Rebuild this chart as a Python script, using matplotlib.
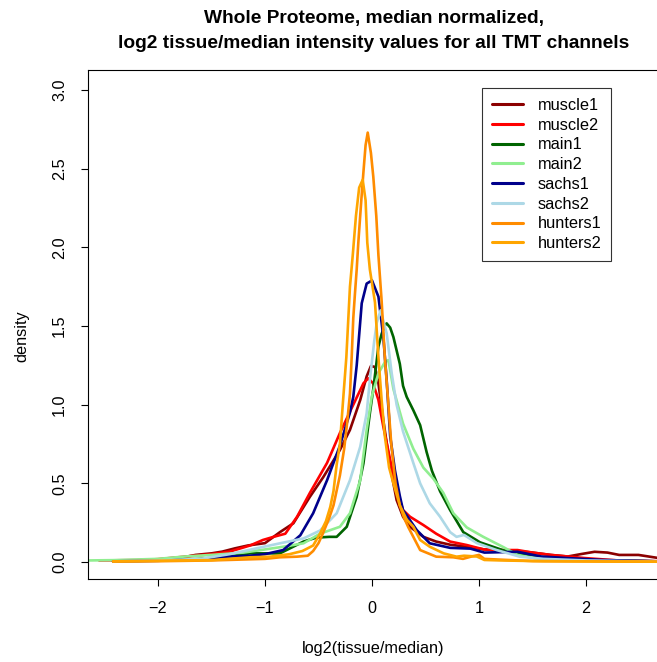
import matplotlib
matplotlib.use("Agg")
import matplotlib.pyplot as plt
from matplotlib.ticker import FixedLocator, FormatStrFormatter

plt.rcParams['font.family'] = ['Liberation Sans', 'DejaVu Sans']

# ---- data ----
series_names = ["muscle1", "muscle2", "main1", "main2", "sachs1", "sachs2", "hunters1", "hunters2"]
series_colors = ["#8B0000", "#FF0000", "#006400", "#90EE90", "#00008B", "#ADD8E6", "#FF8C00", "#FFA500"]

muscle1_x = [-2.42, -2.2, -2.0, -1.8, -1.65, -1.5, -1.4, -1.28, -1.16, -1.0, -0.86, -0.735, -0.58, -0.455,
             -0.3, -0.206, -0.11, -0.05, -0.01, 0.028, 0.06, 0.106, 0.17, 0.23, 0.29, 0.355, 0.48, 0.6,
             0.73, 0.885, 1.05, 1.2, 1.36, 1.5, 1.67, 1.83, 1.95, 2.08, 2.2, 2.31, 2.49, 2.68]
muscle1_y = [0.005, 0.01, 0.015, 0.025, 0.045, 0.055, 0.066, 0.087, 0.105, 0.12, 0.19, 0.246, 0.415, 0.54,
             0.712, 0.84, 1.03, 1.18, 1.246, 1.24, 1.136, 0.90, 0.606, 0.394, 0.288, 0.224, 0.16, 0.13,
             0.11, 0.097, 0.08, 0.075, 0.07, 0.06, 0.045, 0.035, 0.05, 0.065, 0.06, 0.045, 0.045, 0.025]

muscle2_x = [-2.55, -2.2, -2.0, -1.75, -1.5, -1.33, -1.14, -1.02, -0.92, -0.81, -0.70, -0.58, -0.42, -0.30,
             -0.175, -0.08, -0.035, 0.01, 0.06, 0.106, 0.17, 0.23, 0.29, 0.355, 0.48, 0.6, 0.73, 0.885,
             1.045, 1.2, 1.36, 1.5, 1.67, 1.99, 2.3, 2.68]
muscle2_y = [0.01, 0.012, 0.018, 0.034, 0.05, 0.066, 0.105, 0.14, 0.16, 0.18, 0.288, 0.44, 0.63, 0.82,
             1.0, 1.136, 1.168, 1.136, 1.03, 0.86, 0.65, 0.457, 0.33, 0.288, 0.235, 0.18, 0.13, 0.108,
             0.08, 0.076, 0.076, 0.06, 0.045, 0.025, 0.01, 0.005]

main1_x = [-2.42, -2.0, -1.6, -1.3, -1.14, -0.86, -0.64, -0.52, -0.4, -0.33, -0.236, -0.143, -0.08, -0.02,
           0.012, 0.06, 0.09, 0.12, 0.137, 0.17, 0.2, 0.26, 0.29, 0.324, 0.386, 0.45, 0.51, 0.56, 0.636,
           0.73, 0.853, 1.01, 1.22, 1.38, 1.6, 2.0, 2.68]
main1_y = [0.005, 0.01, 0.02, 0.04, 0.055, 0.055, 0.13, 0.155, 0.16, 0.16, 0.224, 0.415, 0.627, 0.945,
           1.10, 1.37, 1.45, 1.505, 1.517, 1.49, 1.43, 1.26, 1.12, 1.05, 0.965, 0.87, 0.70, 0.58, 0.45,
           0.33, 0.19, 0.125, 0.076, 0.055, 0.03, 0.012, 0.004]

main2_x = [-2.65, -2.4, -2.0, -1.75, -1.5, -1.2, -1.0, -0.83, -0.64, -0.486, -0.3, -0.206, -0.11, -0.05,
           -0.003, 0.06, 0.12, 0.153, 0.2, 0.29, 0.386, 0.48, 0.573, 0.666, 0.76, 0.885, 1.04, 1.227,
           1.36, 1.52, 1.8, 2.2, 2.68]
main2_y = [0.01, 0.012, 0.02, 0.035, 0.045, 0.06, 0.08, 0.097, 0.119, 0.18, 0.224, 0.31, 0.52, 0.84,
           1.05, 1.2, 1.27, 1.284, 1.10, 0.88, 0.72, 0.60, 0.53, 0.44, 0.31, 0.22, 0.16, 0.095,
           0.045, 0.025, 0.012, 0.006, 0.003]

sachs1_x = [-2.42, -2.0, -1.6, -1.37, -1.14, -1.0, -0.83, -0.67, -0.55, -0.42, -0.3, -0.206, -0.175,
            -0.143, -0.096, -0.05, 0.0, 0.06, 0.106, 0.137, 0.17, 0.215, 0.26, 0.29, 0.418, 0.54, 0.73,
            0.92, 1.05, 1.36, 1.58, 1.83, 2.15, 2.68]
sachs1_y = [0.004, 0.008, 0.015, 0.034, 0.04, 0.05, 0.076, 0.17, 0.31, 0.52, 0.74, 0.95, 1.05,
            1.25, 1.645, 1.77, 1.79, 1.687, 1.43, 1.157, 0.80, 0.58, 0.42, 0.33, 0.203, 0.119, 0.09,
            0.085, 0.06, 0.065, 0.035, 0.025, 0.013, 0.004]

sachs2_x = [-2.42, -2.0, -1.6, -1.33, -1.08, -0.86, -0.64, -0.486, -0.33, -0.206, -0.11, -0.05, -0.02,
            0.02, 0.044, 0.08, 0.137, 0.184, 0.23, 0.29, 0.386, 0.45, 0.54, 0.636, 0.73, 0.79, 0.86,
            0.98, 1.165, 1.38, 1.6, 2.0, 2.68]
sachs2_y = [0.004, 0.01, 0.02, 0.05, 0.087, 0.119, 0.15, 0.2, 0.31, 0.52, 0.733, 0.945, 1.157,
            1.40, 1.52, 1.60, 1.454, 1.2, 1.0, 0.83, 0.63, 0.5, 0.373, 0.288, 0.19, 0.16, 0.172,
            0.12, 0.076, 0.034, 0.02, 0.01, 0.003]

hunters1_x = [-2.42, -2.0, -1.5, -1.0, -0.86, -0.70, -0.6, -0.55, -0.5, -0.46, -0.4, -0.36, -0.3, -0.26,
              -0.23, -0.206, -0.19, -0.175, -0.16, -0.143, -0.128, -0.1, -0.08, -0.06, -0.04, -0.01,
              0.012, 0.04, 0.06, 0.09, 0.12, 0.15, 0.18, 0.22, 0.26, 0.3, 0.34, 0.386, 0.45, 0.6, 0.76,
              0.85, 0.93, 1.0, 1.05, 1.2, 1.5, 2.0, 2.68]
hunters1_y = [0.003, 0.005, 0.01, 0.02, 0.03, 0.034, 0.04, 0.07, 0.12, 0.18, 0.28, 0.36, 0.55, 0.72,
              0.9, 1.07, 1.3, 1.55, 1.7, 1.86, 2.03, 2.3, 2.48, 2.65, 2.73, 2.6,
              2.45, 2.2, 1.95, 1.66, 1.3, 1.03, 0.75, 0.5, 0.36, 0.28, 0.22, 0.16, 0.076, 0.034, 0.03,
              0.02, 0.035, 0.045, 0.02, 0.015, 0.006, 0.004, 0.002]

hunters2_x = [-2.42, -2.0, -1.5, -1.14, -0.95, -0.77, -0.65, -0.55, -0.486, -0.43, -0.39, -0.36, -0.33,
              -0.3, -0.27, -0.24, -0.206, -0.18, -0.15, -0.12, -0.087, -0.06, -0.044, -0.02, 0.028,
              0.06, 0.09, 0.12, 0.16, 0.2, 0.26, 0.324, 0.386, 0.45, 0.54, 0.67, 0.79, 0.86, 0.98,
              1.05, 1.2, 1.6, 2.68]
hunters2_y = [0.004, 0.008, 0.012, 0.03, 0.034, 0.05, 0.07, 0.105, 0.18, 0.26, 0.35, 0.45, 0.62,
              0.75, 1.03, 1.3, 1.75, 1.95, 2.2, 2.38, 2.43, 2.3, 2.03, 1.86, 1.65,
              1.3, 1.03, 0.8, 0.6, 0.5, 0.36, 0.27, 0.224, 0.14, 0.097, 0.055, 0.034, 0.04, 0.035,
              0.013, 0.01, 0.005, 0.002]

series_x = [muscle1_x, muscle2_x, main1_x, main2_x, sachs1_x, sachs2_x, hunters1_x, hunters2_x]
series_y = [muscle1_y, muscle2_y, main1_y, main2_y, sachs1_y, sachs2_y, hunters1_y, hunters2_y]

x_ticks = [-2, -1, 0, 1, 2]
y_ticks = [0.0, 0.5, 1.0, 1.5, 2.0, 2.5, 3.0]

title_lines = ["Whole Proteome, median normalized,",
               "log2 tissue/median intensity values for all TMT channels"]
x_label = "log2(tissue/median)"
y_label = "density"

# ---- figure ----
W, H = 657, 662
fig = plt.figure(figsize=(W / 100, H / 100), dpi=100)

def fx(px):
    return px / W

def fy(py):
    return 1 - py / H

ax_left, ax_right, ax_top, ax_bottom = 88, 659, 70, 579
ax = fig.add_axes([fx(ax_left), fy(ax_bottom), (ax_right - ax_left) / W, (ax_bottom - ax_top) / H])

for xs, ys, c, n in zip(series_x, series_y, series_colors, series_names):
    ax.plot(xs, ys, color=c, lw=1.9, label=n, solid_joinstyle='round', solid_capstyle='round')

ax.set_xlim(-2.654, 2.682)
ax.set_ylim(-0.108, 3.128)

ax.xaxis.set_major_locator(FixedLocator(x_ticks))
ax.yaxis.set_major_locator(FixedLocator(y_ticks))
ax.yaxis.set_major_formatter(FormatStrFormatter('%.1f'))
ax.tick_params(axis='both', direction='out', length=5, width=0.8, labelsize=11.7, color='black')
ax.tick_params(axis='x', pad=11)
ax.tick_params(axis='y', pad=10)
for lab in ax.get_yticklabels():
    lab.set_rotation(90)
    lab.set_va('center')
for s in ax.spines.values():
    s.set_linewidth(0.8)
    s.set_color('black')

fig.text(fx(374), fy(18), title_lines[0], ha='center', va='center', fontsize=13.8, fontweight='bold')
fig.text(fx(374), fy(43), title_lines[1], ha='center', va='center', fontsize=13.8, fontweight='bold')
fig.text(fx(373), fy(649), x_label, ha='center', va='center', fontsize=11.7)
fig.text(fx(22), fy(336), y_label, ha='center', va='center', fontsize=11.7, rotation=90)

leg = ax.legend(loc='upper left', bbox_to_anchor=(fx(482), fy(88)), bbox_transform=fig.transFigure,
                fontsize=11.8, frameon=True, fancybox=False, handlelength=1.9, handletextpad=0.9,
                labelspacing=0.29, borderpad=0.6, borderaxespad=0)
leg.get_frame().set_edgecolor('black')
leg.get_frame().set_linewidth(0.8)
for line in leg.get_lines():
    line.set_linewidth(2.2)

fig.savefig("out.png", dpi=100)
